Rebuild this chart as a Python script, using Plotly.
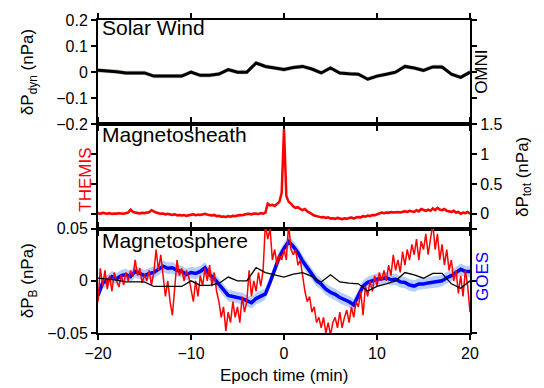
import numpy as np
import plotly.graph_objects as go
from plotly.subplots import make_subplots

# ---- data -------------------------------------------------------------
# OMNI solar-wind dynamic pressure perturbation, 1-min cadence (nPa)
t_sw = np.arange(-20, 21, 1.0)
sw_pdyn = [0.007, 0.005, 0.002, -0.003, -0.003, -0.003, -0.015, -0.015, -0.015, -0.015,
           0.0, -0.012, -0.012, -0.007, 0.01, 0.0, 0.0, 0.035, 0.022, 0.016,
           0.01, 0.018, 0.022, 0.012, -0.003, 0.016, -0.003, -0.006, -0.008, -0.027,
           -0.015, -0.008, 0.0, 0.022, 0.016, 0.007, 0.02, 0.02, -0.008, -0.02, 0.0]
sw_scale = 0.36  # solar-wind curve overlaid in the magnetosphere panel

# THEMIS magnetosheath total pressure perturbation, 15-s cadence (nPa)
t_hi = np.arange(-20, 20.001, 0.25)
themis_ptot = [
    0.01, 0.0, 0.015, 0.005,      0.0, 0.01, -0.005, 0.005,
    0.0, 0.01, 0.005, 0.0,        0.01, 0.02, 0.07, 0.03,
    0.02, 0.01, 0.005, 0.015,     0.01, 0.02, 0.025, 0.06,
    0.035, 0.02, 0.01, 0.0,       0.005, -0.01, 0.0, -0.015,
    -0.02, -0.01, -0.025, -0.02,  -0.03, -0.02, -0.035, -0.025,
    -0.02, -0.01, -0.025, -0.015, -0.02, -0.01, 0.0, -0.015,
    -0.025, -0.03, -0.02, -0.04,  -0.035, -0.05, -0.045, -0.055,
    -0.04, -0.05, -0.035, -0.04,  -0.03, -0.02, -0.025, -0.01,
    -0.005, 0.0, -0.01, 0.005,    0.0, -0.005, 0.01, 0.0,
    0.02, 0.17, 0.14, 0.15,       0.13, 0.16, 0.2, 0.35,
    1.42, 0.3, 0.2, 0.17,         0.12, 0.1, 0.11, 0.08,
    0.06, 0.08, 0.04, 0.02,       -0.01, -0.03, -0.04, -0.05,
    -0.06, -0.055, -0.07, -0.06,  -0.08, -0.075, -0.085, -0.07,
    -0.08, -0.09, -0.075, -0.085, -0.07, -0.065, -0.08, -0.06,
    -0.055, -0.06, -0.04, -0.05,  -0.03, -0.04, -0.02, -0.025,
    -0.01, 0.0, 0.02, 0.01,       0.02, 0.015, 0.03, 0.02,
    0.025, 0.03, 0.02, 0.035,     0.04, 0.03, 0.05, 0.04,
    0.03, 0.06, 0.04, 0.08,       0.06, 0.05, 0.07, 0.05,
    0.09, 0.06, 0.1, 0.07,        0.06, 0.08, 0.05, 0.04,
    0.03, 0.05, 0.02, 0.03,       0.0, 0.02, 0.01, 0.03,
    0.0]

# THEMIS magnetic pressure perturbation in the magnetosphere (nPa)
themis_pb = [
    -0.02, 0.012, -0.005, 0.01,   -0.008, 0.005, -0.01, 0.008,
    0.0, -0.006, 0.006, -0.004,   0.008, 0.0, 0.01, 0.004,
    0.02, 0.005, 0.012, -0.002,   0.006, 0.0, 0.01, -0.004,
    0.008, 0.03, 0.01, 0.025,     0.005, -0.015, 0.0, -0.02,
    -0.033, -0.005, 0.02, 0.005,  0.012, 0.0, 0.01, 0.004,
    -0.01, -0.02, 0.0, -0.015,    0.005, -0.005, 0.012, 0.0,
    0.015, -0.005, 0.008, -0.01,  -0.02, -0.035, -0.025, -0.048,
    -0.03, -0.04, -0.02, -0.035,  -0.025, -0.04, -0.015, -0.03,
    -0.02, 0.01, -0.015, 0.0,     -0.01, 0.008, -0.005, 0.01,
    0.055, 0.04, 0.05, 0.02,      0.03, 0.015, 0.025, 0.02,
    0.03, 0.02, 0.055, 0.03,      0.025, 0.03, 0.015, 0.02,
    0.005, -0.01, -0.02, -0.015,  -0.03, -0.025, -0.04, -0.035,
    -0.045, -0.035, -0.05, -0.04, -0.052, -0.04, -0.035, -0.045,
    -0.03, -0.045, -0.035, -0.028, -0.04, -0.025, -0.035, -0.02,
    -0.025, -0.01, -0.033, -0.005, -0.015, 0.0, -0.01, 0.005,
    -0.005, 0.008, 0.0, 0.01,     0.0, 0.015, 0.005, 0.025,
    0.01, 0.02, 0.008, 0.028,     0.015, 0.03, 0.02, 0.035,
    0.025, 0.04, 0.02, 0.038,     0.03, 0.045, 0.025, 0.04,
    0.055, 0.03, 0.045, 0.02,     0.035, 0.015, 0.03, 0.01,
    0.02, 0.0, 0.01, -0.012,      0.005, -0.015, 0.01, -0.005,
    -0.03]

# GOES magnetic pressure perturbation, 30-s cadence (nPa)
t_goes = np.arange(-20, 20.001, 0.5)
goes_pb = [
    -0.014, -0.002, 0.0, 0.004, 0.002, 0.005, 0.006, 0.004, 0.009, 0.007,
    0.005, 0.007, 0.008, 0.011, 0.014, 0.012, 0.0125, 0.01, 0.009, 0.006,
    0.008, 0.007, 0.009, 0.0125, 0.006, 0.002, -0.003, -0.009, -0.014, -0.015,
    -0.016, -0.017, -0.019, -0.021, -0.017, -0.015, -0.0125, -0.0015, 0.011, 0.023,
    0.031, 0.0375, 0.033, 0.027, 0.019, 0.0125, 0.006, 0.0, -0.003, -0.008,
    -0.011, -0.013, -0.016, -0.018, -0.02, -0.023, -0.014, -0.005, -0.0015, 0.0,
    0.0015, 0.002, 0.003, 0.001, 0.0015, -0.001, -0.0015, -0.004, -0.005, -0.003,
    -0.003, -0.002, -0.0015, -0.001, 0.0, 0.003, 0.005, 0.008, 0.011, 0.009,
    0.009]

x_ticks = [-20, -10, 0, 10, 20]

# ---- styling ------------------------------------------------------------
FONT = "Liberation Sans, Arial, sans-serif"
RED = "rgb(255,0,0)"
BLUE = "rgb(0,0,255)"


def band(fig, x, y, half, color, row):
    y = np.asarray(y, dtype=float)
    xs = np.concatenate([x, x[::-1]])
    ys = np.concatenate([y + half, (y - half)[::-1]])
    fig.add_trace(go.Scatter(x=xs, y=ys, fill="toself", fillcolor=color,
                             line=dict(width=0), mode="lines", hoverinfo="skip",
                             showlegend=False), row=row, col=1)


fig = make_subplots(rows=3, cols=1, shared_xaxes=True, vertical_spacing=0)

# Solar wind
band(fig, t_sw, sw_pdyn, 0.008, "rgb(196,192,180)", 1)
fig.add_trace(go.Scatter(x=t_sw, y=sw_pdyn, mode="lines",
                         line=dict(color="black", width=3), showlegend=False), row=1, col=1)

# Magnetosheath
band(fig, t_hi, themis_ptot, 0.022, "rgba(255,120,120,0.6)", 2)
fig.add_trace(go.Scatter(x=t_hi, y=themis_ptot, mode="lines",
                         line=dict(color=RED, width=2.5), showlegend=False), row=2, col=1)

# Magnetosphere
band(fig, t_goes, goes_pb, 0.0055, "rgb(180,206,255)", 3)
fig.add_trace(go.Scatter(x=t_goes, y=goes_pb, mode="lines",
                         line=dict(color=BLUE, width=3.5), showlegend=False), row=3, col=1)
fig.add_trace(go.Scatter(x=t_hi, y=themis_pb, mode="lines",
                         line=dict(color=RED, width=1.5), showlegend=False), row=3, col=1)
fig.add_trace(go.Scatter(x=t_sw, y=np.asarray(sw_pdyn) * sw_scale, mode="lines",
                         line=dict(color="black", width=1.3), showlegend=False), row=3, col=1)

axis_common = dict(showline=True, linecolor="black", linewidth=2, mirror="ticks",
                   ticks="outside", ticklen=5, tickwidth=1.5, tickcolor="black",
                   showgrid=False, zeroline=False,
                   tickfont=dict(family=FONT, size=16, color="black"))

for r in (1, 2, 3):
    fig.update_xaxes(range=[-20, 20], tickvals=x_ticks, row=r, col=1, **axis_common)
fig.update_xaxes(showticklabels=True, row=3, col=1)

fig.update_yaxes(range=[-0.2, 0.2], tickvals=[-0.2, -0.1, 0, 0.1, 0.2], row=1, col=1, **axis_common)
fig.update_yaxes(range=[-0.25, 1.5], tickvals=[0, 0.5, 1, 1.5], side="right", row=2, col=1,
                 **axis_common)
fig.update_yaxes(range=[-0.05, 0.05], tickvals=[-0.05, 0, 0.05], row=3, col=1, **axis_common)

ann = []


def label(text, x, y, size=17, color="black", angle=0, xanchor="center", yanchor="middle"):
    ann.append(dict(text=text, x=x, y=y, xref="paper", yref="paper", showarrow=False,
                    textangle=angle, xanchor=xanchor, yanchor=yanchor,
                    font=dict(family=FONT, size=size, color=color)))


label("Solar Wind", 0.005, 1.019, size=21, xanchor="left", yanchor="top")
label("Magnetosheath", 0.005, 0.677, size=21, xanchor="left", yanchor="top")
label("Magnetosphere", 0.005, 0.338, size=21, xanchor="left", yanchor="top")

label("δP<sub>dyn</sub> (nPa)", -0.185, 0.834, angle=-90)
label("THEMIS", -0.032, 0.49, color=RED, angle=-90)
label("δP<sub>B</sub> (nPa)", -0.185, 0.166, angle=-90)
label("OMNI", 1.032, 0.834, angle=-90)
label("δP<sub>tot</sub> (nPa)", 1.145, 0.498, angle=-90)
label("GOES", 1.032, 0.182, color=BLUE, angle=-90)
label("Epoch time (min)", 0.5, -0.135)

fig.update_layout(width=544, height=388, margin=dict(l=98, r=74, t=14, b=55),
                  paper_bgcolor="white", plot_bgcolor="white", annotations=ann,
                  font=dict(family=FONT, size=16, color="black"))

fig.write_html("out.html")
